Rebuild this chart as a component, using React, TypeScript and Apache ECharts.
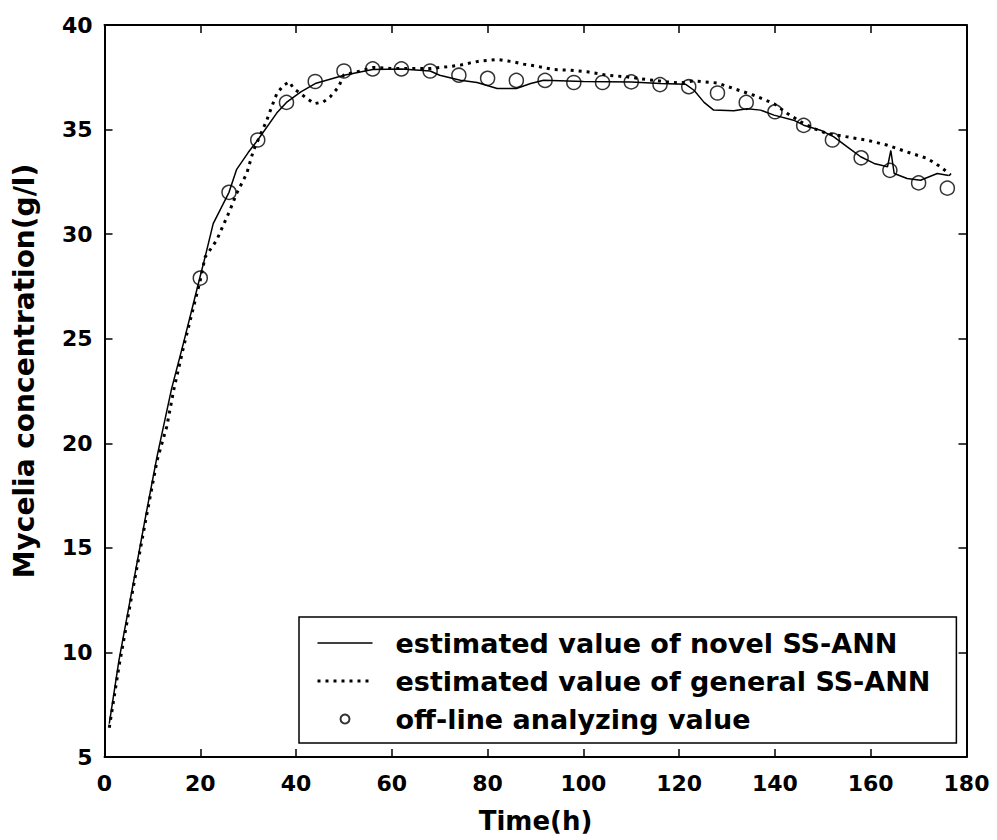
import React, { useEffect, useRef } from "react";
import * as echarts from "echarts";

// Off-line analyzing values (every 6 h)
const offlineTime = [20, 26, 32, 38, 44, 50, 56, 62, 68, 74, 80, 86, 92, 98, 104, 110, 116, 122, 128, 134, 140, 146, 152, 158, 164, 170, 176];
const offlineValue = [27.9, 32.0, 34.5, 36.3, 37.3, 37.8, 37.9, 37.9, 37.8, 37.6, 37.45, 37.35, 37.35, 37.25, 37.25, 37.28, 37.15, 37.05, 36.75, 36.3, 35.85, 35.2, 34.5, 33.65, 33.05, 32.45, 32.2];

// Estimated value of novel SS-ANN
const novelTime = [1, 3, 6, 8.5, 11, 14, 16.5, 20, 21, 22.7, 26, 27.6, 30, 32, 36, 38, 41, 44, 50, 56, 62, 68, 70, 74.3, 77.8, 82, 86, 89, 91.7, 100, 110, 116, 121.3, 123.1, 125.2, 127.2, 131.4, 134.2, 137, 139.8, 143.9, 146, 149.5, 152.3, 155.1, 157.9, 160.7, 163.5, 164.2, 164.9, 167.6, 170.4, 173.9, 176.3];
const novelValue = [6.6, 9.6, 13.3, 16.4, 19.4, 22.6, 24.8, 28.0, 28.9, 30.5, 32.0, 33.1, 33.9, 34.5, 35.8, 36.3, 36.8, 37.2, 37.6, 37.87, 37.9, 37.8, 37.6, 37.36, 37.25, 36.96, 36.96, 37.2, 37.36, 37.3, 37.28, 37.2, 37.17, 36.88, 36.3, 35.93, 35.9, 36.0, 35.93, 35.69, 35.45, 35.21, 34.97, 34.65, 34.17, 33.7, 33.38, 33.22, 34.0, 32.9, 32.66, 32.58, 32.9, 32.8];

// Estimated value of general SS-ANN
const generalTime = [1, 3, 6, 8.5, 11, 13, 14.5, 16.5, 20, 21, 23.4, 26.2, 27.6, 29.7, 31.1, 33.9, 34.9, 36, 37.4, 38.6, 39.5, 40.5, 42.3, 43.8, 45.7, 47.1, 48.9, 49.9, 52.7, 56.2, 59.7, 68, 71.5, 74.3, 76.4, 78.5, 82, 85.4, 87.5, 90.3, 93.8, 97.3, 100.8, 105, 109.1, 113.3, 117.5, 120.3, 123.1, 127.9, 131.4, 135.6, 139.8, 142.6, 145.4, 148.1, 150.9, 155.1, 159.3, 163.5, 167.6, 171.8, 174.6, 176.7];
const generalValue = [6.4, 9.3, 13.1, 16.2, 19.2, 20.8, 22.6, 24.6, 27.8, 28.9, 29.7, 31.15, 31.95, 32.9, 34.0, 35.45, 36.08, 36.73, 37.12, 37.28, 36.96, 36.8, 36.48, 36.24, 36.32, 36.56, 37.04, 37.6, 37.76, 37.97, 37.92, 37.92, 38.0, 38.08, 38.19, 38.28, 38.35, 38.24, 38.13, 38.03, 37.87, 37.84, 37.76, 37.6, 37.52, 37.39, 37.28, 37.23, 37.33, 37.23, 36.96, 36.64, 36.24, 35.77, 35.37, 35.05, 34.81, 34.65, 34.49, 34.25, 33.93, 33.62, 33.22, 32.82];

const seriesNames = ["estimated value of novel SS-ANN", "estimated value of general SS-ANN", "off-line analyzing value"];
const xTitle = "Time(h)";
const yTitle = "Mycelia concentration(g/l)";

const FONT = "DejaVu Sans";

export default function App() {
  const ref = useRef<HTMLDivElement>(null);
  useEffect(() => {
    if (!ref.current) return;
    const chart = echarts.init(ref.current, null, { renderer: "svg" });
    const zip = (a: number[], b: number[]) => a.map((t, i) => [t, b[i]]);
    const axisLineStyle = { color: "#000", width: 2 };
    const tickStyle = { show: true, inside: true, length: 8, lineStyle: { color: "#000", width: 1.5 } };
    chart.setOption({
      animation: false,
      backgroundColor: "#fff",
      grid: { left: 104.5, right: 30.5, top: 25, bottom: 83, containLabel: false },
      xAxis: [
        {
          type: "value", min: 0, max: 180, interval: 20, position: "bottom",
          axisLine: { show: true, onZero: false, lineStyle: axisLineStyle },
          axisTick: tickStyle,
          splitLine: { show: false },
          axisLabel: { color: "#000", fontFamily: FONT, fontWeight: "bold", fontSize: 22, margin: 15 },
          name: xTitle, nameLocation: "middle", nameGap: 51,
          nameTextStyle: { color: "#000", fontFamily: FONT, fontWeight: "bold", fontSize: 26 },
        },
        {
          type: "value", min: 0, max: 180, interval: 20, position: "top",
          axisLine: { show: true, onZero: false, lineStyle: axisLineStyle },
          axisTick: tickStyle, axisLabel: { show: false }, splitLine: { show: false },
        },
      ],
      yAxis: [
        {
          type: "value", min: 5, max: 40, interval: 5, position: "left",
          axisLine: { show: true, onZero: false, lineStyle: axisLineStyle },
          axisTick: tickStyle,
          splitLine: { show: false },
          axisLabel: { color: "#000", fontFamily: FONT, fontWeight: "bold", fontSize: 22, margin: 12 },
          name: yTitle, nameLocation: "middle", nameGap: 66, nameRotate: 90,
          nameTextStyle: { color: "#000", fontFamily: FONT, fontWeight: "bold", fontSize: 28, padding: [0, 0, 0, 40] },
        },
        {
          type: "value", min: 5, max: 40, interval: 5, position: "right",
          axisLine: { show: true, onZero: false, lineStyle: axisLineStyle },
          axisTick: tickStyle, axisLabel: { show: false }, splitLine: { show: false },
        },
      ],
      legend: {
        orient: "vertical", left: 299, top: 617,
        padding: [11, 26, 9, 17],
        itemWidth: 55, itemHeight: 9, itemGap: 8,
        backgroundColor: "#fff", borderColor: "#000", borderWidth: 1.5, borderRadius: 0,
        textStyle: { color: "#000", fontFamily: FONT, fontWeight: "bold", fontSize: 27, lineHeight: 30, padding: [0, 0, 0, 18] },
        data: [
          { name: seriesNames[0], itemStyle: { opacity: 0 }, lineStyle: { width: 1.5, color: "#000", type: "solid" } },
          { name: seriesNames[1], itemStyle: { opacity: 0 }, lineStyle: { width: 3, color: "#000", type: [3, 5] } },
          { name: seriesNames[2] },
        ],
      },
      series: [
        {
          name: seriesNames[0], type: "line", xAxisIndex: 0, yAxisIndex: 0,
          data: zip(novelTime, novelValue), showSymbol: false, symbol: "none",
          lineStyle: { color: "#000", width: 1.5, type: "solid" }, itemStyle: { color: "#000" },
        },
        {
          name: seriesNames[1], type: "line", xAxisIndex: 0, yAxisIndex: 0,
          data: zip(generalTime, generalValue), showSymbol: false, symbol: "none",
          lineStyle: { color: "#000", width: 3, type: [3, 5] }, itemStyle: { color: "#000" },
        },
        {
          name: seriesNames[2], type: "scatter", xAxisIndex: 0, yAxisIndex: 0,
          data: zip(offlineTime, offlineValue), symbol: "circle", symbolSize: 14,
          itemStyle: { color: "rgba(0,0,0,0)", borderColor: "#000", borderWidth: 1.5 },
        },
      ],
    });
    return () => chart.dispose();
  }, []);
  return <div ref={ref} style={{ position: "fixed", left: 0, top: 0, width: 997, height: 840 }} />;
}
